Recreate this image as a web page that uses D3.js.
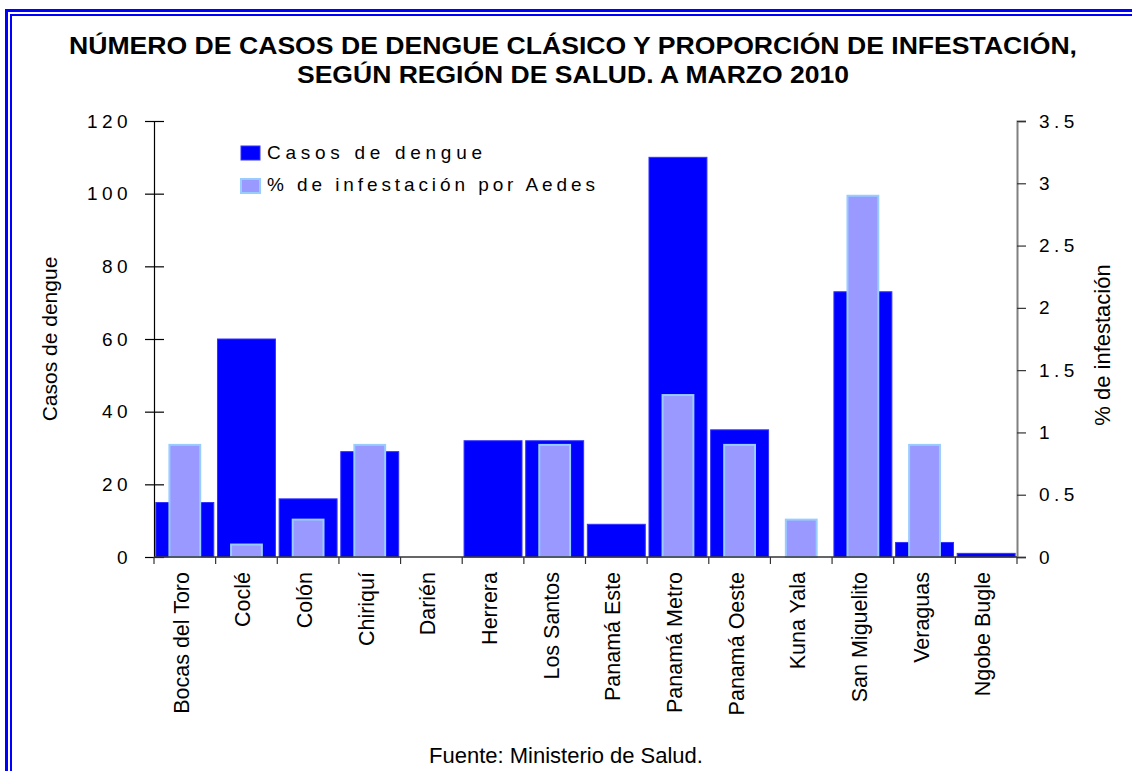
<!DOCTYPE html>
<html>
<head>
<meta charset="utf-8">
<script src="https://cdn.jsdelivr.net/npm/d3@7"></script>
<style>
  html, body { margin: 0; padding: 0; background: #fff; }
  svg { display: block; font-family: Arial, "Liberation Sans", sans-serif; }
</style>
</head>
<body>
<svg id="chart" width="1132" height="771"></svg>
<script>
const categories = ["Bocas del Toro","Coclé","Colón","Chiriquí","Darién","Herrera","Los Santos","Panamá Este","Panamá Metro","Panamá Oeste","Kuna Yala","San Miguelito","Veraguas","Ngobe Bugle"];
const casos = [15, 60, 16, 29, 0, 32, 32, 9, 110, 35, 0, 73, 4, 1];
const infestacion = [0.9, 0.1, 0.3, 0.9, 0, 0, 0.9, 0, 1.3, 0.9, 0.3, 2.9, 0.9, 0];
const leftTicks = [0, 20, 40, 60, 80, 100, 120];
const rightTicks = [0, 0.5, 1, 1.5, 2, 2.5, 3, 3.5];
const seriesNames = ["Casos de dengue", "% de infestación por Aedes"];
const titleLines = ["NÚMERO DE CASOS DE DENGUE CLÁSICO Y PROPORCIÓN DE INFESTACIÓN,", "SEGÚN REGIÓN DE SALUD. A MARZO 2010"];
const leftTitle = "Casos de dengue";
const rightTitle = "% de infestación";
const source = "Fuente: Ministerio de Salud.";

const svg = d3.select("#chart");
const L = 154, R = 1017, T = 121, B = 557;

// double border
svg.append("rect").attr("x", 6.5).attr("y", 10.5).attr("width", 1200).attr("height", 900)
  .attr("fill", "none").attr("stroke", "#0000ff").attr("stroke-width", 3);
svg.append("rect").attr("x", 11).attr("y", 15).attr("width", 1200).attr("height", 900)
  .attr("fill", "none").attr("stroke", "#0000ff").attr("stroke-width", 2);

// title
const titleLens = [1008, 552];
svg.append("g").selectAll("text").data(titleLines).join("text")
  .attr("x", 573).attr("y", (d, i) => 54 + i * 29)
  .attr("text-anchor", "middle").attr("font-weight", "bold").attr("font-size", 23.5)
  .attr("textLength", (d, i) => titleLens[i]).attr("lengthAdjust", "spacingAndGlyphs")
  .attr("fill", "#000").text(d => d);

const x = d3.scaleBand().domain(categories).range([L, R]);
const yL = d3.scaleLinear().domain([0, 120]).range([B, T]);
const yR = d3.scaleLinear().domain([0, 3.5]).range([B, T]);
const bw = x.bandwidth();

const data = categories.map((c, i) => ({c, casos: casos[i], inf: infestacion[i]}));

// dark bars
svg.append("g").selectAll("rect").data(data.filter(d => d.casos > 0)).join("rect")
  .attr("x", d => x(d.c) + bw * 0.03)
  .attr("width", bw * 0.94)
  .attr("y", d => yL(d.casos))
  .attr("height", d => yL(0) - yL(d.casos))
  .attr("fill", "#0000ff").attr("stroke", "#3333ff").attr("stroke-width", 1);

// light bars
svg.append("g").selectAll("rect").data(data.filter(d => d.inf > 0)).join("rect")
  .attr("x", d => x(d.c) + bw * 0.25)
  .attr("width", bw * 0.5)
  .attr("y", d => yR(d.inf))
  .attr("height", d => yR(0) - yR(d.inf))
  .attr("fill", "#9999ff").attr("stroke", "#99ccff").attr("stroke-width", 2);

// left axis
const gl = svg.append("g").attr("transform", `translate(${L},0)`)
  .call(d3.axisLeft(yL).tickValues(leftTicks).tickSize(9).tickFormat(d3.format("d")));
gl.select(".domain").attr("stroke", "#000").attr("stroke-width", 1.2);
gl.selectAll(".tick line").attr("x1", -9).attr("x2", 10).attr("stroke", "#000").attr("stroke-width", 1.2);
gl.selectAll(".tick text").attr("x", -22).attr("font-size", 19).attr("letter-spacing", "4.4px")
  .attr("font-family", "Arial, 'Liberation Sans', sans-serif").attr("fill", "#000");

// right axis
const gr = svg.append("g").attr("transform", `translate(${R},0)`)
  .call(d3.axisRight(yR).tickValues(rightTicks).tickSize(9).tickFormat(d => String(d)));
gr.select(".domain").attr("stroke", "#808080").attr("stroke-width", 2);
gr.selectAll(".tick line").attr("stroke", "#333").attr("stroke-width", 1.2);
gr.selectAll(".tick text").attr("x", 22).attr("font-size", 19).attr("letter-spacing", "4.4px")
  .attr("font-family", "Arial, 'Liberation Sans', sans-serif").attr("fill", "#000");

// bottom axis
svg.append("line").attr("x1", L).attr("x2", R).attr("y1", B).attr("y2", B)
  .attr("stroke", "#333").attr("stroke-width", 1.5);
const boundaries = categories.map(c => x(c)).concat([R]);
svg.append("g").selectAll("line").data(boundaries).join("line")
  .attr("x1", d => d).attr("x2", d => d).attr("y1", B).attr("y2", B + 7)
  .attr("stroke", "#333").attr("stroke-width", 1.2);
svg.append("g").selectAll("text").data(categories).join("text")
  .attr("transform", d => `translate(${x(d) + bw / 2 + 4},${B + 15}) rotate(-90)`)
  .attr("text-anchor", "end").attr("font-size", 21.5).attr("fill", "#000").text(d => d);

// axis titles
svg.append("text").attr("transform", "translate(57,339) rotate(-90)")
  .attr("text-anchor", "middle").attr("font-size", 21).attr("fill", "#000").text(leftTitle);
svg.append("text").attr("transform", "translate(1110,345) rotate(-90)")
  .attr("text-anchor", "middle").attr("font-size", 22).attr("fill", "#000").text(rightTitle);

// legend
const leg = svg.append("g");
const legFill = ["#0000ff", "#9999ff"], legStroke = ["#3333ff", "#99ccff"];
const legLens = [215, 328];
seriesNames.forEach((n, i) => {
  leg.append("rect").attr("x", 241).attr("y", 146 + i * 33).attr("width", 19).attr("height", 14)
    .attr("fill", legFill[i]).attr("stroke", legStroke[i]).attr("stroke-width", i ? 2 : 1);
  leg.append("text").attr("x", 267).attr("y", 159 + i * 32).attr("font-size", 19)
    .attr("textLength", legLens[i]).attr("lengthAdjust", "spacing")
    .attr("fill", "#000").text(n);
});

// source
svg.append("text").attr("x", 566).attr("y", 763).attr("text-anchor", "middle")
  .attr("font-size", 22).attr("fill", "#000").text(source);
</script>
</body>
</html>
